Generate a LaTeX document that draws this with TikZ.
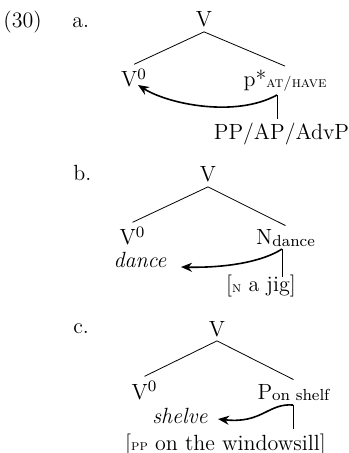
\documentclass[tikz,border=0pt]{standalone}
\usetikzlibrary{arrows.meta}
\newcommand{\lowsub}[1]{\raisebox{-0.8pt}{\fontsize{8}{9}\selectfont #1}}
\newcommand{\scsub}[1]{\raisebox{-0.4pt}{\fontsize{7.5}{9}\selectfont\textsc{#1}}}
\begin{document}
\begin{tikzpicture}[x=0.5pt,y=0.5pt,
    font=\fontsize{11}{13}\selectfont,
    lab/.style={anchor=base, inner sep=2pt},
    branch/.style={line width=0.4pt},
    move/.style={line width=0.8pt, -{Stealth[length=5.5pt,width=4.5pt]}}]
  \useasboundingbox (0,0) rectangle (348,-453);

  % nummer und buchstaben
  \node[anchor=base west, inner sep=0pt] (num) at (3,-28) {(30)};
  \node[anchor=base west, inner sep=0pt] (ia) at (72,-28) {a.};
  \node[anchor=base west, inner sep=0pt] (ib) at (73,-181) {b.};
  \node[anchor=base west, inner sep=0pt] (ic) at (73,-333) {c.};

  % baum a
  \node[lab] (aV) at (204,-27) {V};
  \node[lab] (aVz) at (134,-87) {V$^0$};
  \node[lab] (aP) at (285,-87) {p*\scsub{at/have}};
  \node[lab] (aPP) at (281.5,-140) {PP/AP/AdvP};
  \coordinate (aPfoot) at (277,-95);
  \coordinate (aVzhit) at (138,-85);
  \draw[branch] (aV.south) -- (aVz.north);
  \draw[branch] (aV.south) -- (aP.north);
  \draw[branch] (aPfoot) -- (aPfoot |- aPP.north);
  \draw[move] (aPfoot) .. controls (235,-118) and (168,-104) .. (aVzhit);

  % baum b
  \node[lab] (bV) at (208,-182) {V};
  \node[lab] (bVz) at (132.5,-245) {V$^0$};
  \node[lab] (bN) at (285.5,-245) {N\lowsub{dance}};
  \node[lab] (bdance) at (140,-268) {\textit{dance}};
  \node[lab] (bNP) at (261,-292) {[\scsub{n} a jig]};
  \coordinate (bNfoot) at (282,-249);
  \coordinate (bdancehit) at (181,-267);
  \draw[branch] (bV.south) -- (bVz.north);
  \draw[branch] (bV.south) -- (bN.north);
  \draw[branch, shorten >=-3pt] (bNfoot) -- (bNfoot |- bNP.north);
  \draw[move] (bNfoot) .. controls (262,-262) and (225,-268) .. (bdancehit);

  % baum c
  \node[lab] (cV) at (217,-336) {V};
  \node[lab] (cVz) at (144.5,-399) {V$^0$};
  \node[lab] (cP) at (293.5,-399) {P\lowsub{on shelf}};
  \node[lab] (cshelve) at (180,-423) {\textit{shelve}};
  \node[lab] (cPP) at (225.5,-450) {[\scsub{pp} on the windowsill]};
  \coordinate (cPfoot) at (293,-405);
  \coordinate (cshelvehit) at (218,-419);
  \draw[branch] (cV.south) -- (cVz.north);
  \draw[branch] (cV.south) -- (cP.north);
  \draw[branch] (cPfoot) -- (cPfoot |- cPP.north);
  \draw[move] (cPfoot) .. controls (268,-403) and (262,-424) .. (cshelvehit);
\end{tikzpicture}
\end{document}
